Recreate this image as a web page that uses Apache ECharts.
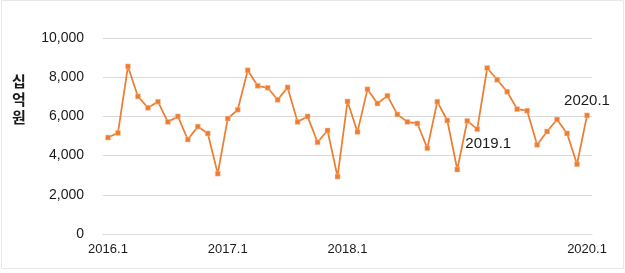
<!DOCTYPE html>
<html>
<head>
<meta charset="utf-8">
<script src="https://cdn.jsdelivr.net/npm/echarts@6/dist/echarts.min.js"></script>
<style>
html,body{margin:0;padding:0;background:#fff;}
#chart{width:625px;height:273px;}
</style>
</head>
<body>
<div id="chart"></div>
<script>
const categories = [
  '2016.1','2016.2','2016.3','2016.4','2016.5','2016.6','2016.7','2016.8','2016.9','2016.10','2016.11','2016.12',
  '2017.1','2017.2','2017.3','2017.4','2017.5','2017.6','2017.7','2017.8','2017.9','2017.10','2017.11','2017.12',
  '2018.1','2018.2','2018.3','2018.4','2018.5','2018.6','2018.7','2018.8','2018.9','2018.10','2018.11','2018.12',
  '2019.1','2019.2','2019.3','2019.4','2019.5','2019.6','2019.7','2019.8','2019.9','2019.10','2019.11','2019.12',
  '2020.1'
];
const values = [
  4920, 5160, 8550, 7020, 6440, 6750, 5720, 6000, 4820, 5480, 5130, 3080,
  5890, 6340, 8350, 7560, 7460, 6850, 7480, 5720, 6000, 4680, 5280, 2930,
  6760, 5210, 7380, 6660, 7050, 6100, 5720, 5640, 4380, 6750, 5790, 3290,
  5770, 5350, 8470, 7870, 7260, 6370, 6290, 4550, 5230, 5840, 5130, 3560,
  6050
];
const xTickLabels = ['2016.1', '2017.1', '2018.1', '2020.1'];
const annotations = ['2019.1', '2020.1'];
const yAxisTitle = '십억원';

const annStyle = {
  '2019.1': { position: 'bottom', offset: [21, 8] },
  '2020.1': { position: 'top', offset: [0, 1] }
};

const seriesData = values.map((v, i) => {
  const c = categories[i];
  if (annotations.includes(c)) {
    return {
      value: v,
      label: Object.assign({
        show: true,
        formatter: c,
        color: '#1a1a1a',
        fontSize: 15,
        fontFamily: 'Liberation Sans'
      }, annStyle[c])
    };
  }
  return v;
});

const chart = echarts.init(document.getElementById('chart'), null, { renderer: 'canvas' });
chart.setOption({
  animation: false,
  backgroundColor: '#fff',
  grid: { left: 103, right: 33, top: 38, bottom: 39 },
  xAxis: {
    type: 'category',
    data: categories,
    boundaryGap: true,
    axisLine: { show: true, lineStyle: { color: '#d9d9d9', width: 1 } },
    axisTick: { show: false },
    axisLabel: {
      interval: (idx, val) => xTickLabels.includes(val),
      color: '#1a1a1a',
      fontSize: 13,
      fontFamily: 'Liberation Sans',
      margin: 9
    },
    splitLine: { show: false }
  },
  yAxis: {
    type: 'value',
    min: 0, max: 10000, interval: 2000,
    axisLine: { show: false },
    axisTick: { show: false },
    axisLabel: {
      formatter: v => v.toLocaleString('en-US'),
      color: '#1a1a1a',
      fontSize: 14,
      fontFamily: 'Liberation Sans',
      margin: 19
    },
    splitLine: { lineStyle: { color: '#d9d9d9', width: 1 } }
  },
  graphic: [
    {
      type: 'rect',
      shape: { x: 1.5, y: 0.5, width: 622, height: 268 },
      style: { fill: 'none', stroke: '#e8e8e8', lineWidth: 1 },
      silent: true
    },
    {
      type: 'text',
      left: 12, top: 72,
      style: {
        text: yAxisTitle.split('').join('\n'),
        font: 'bold 15px "Noto Sans CJK KR"',
        lineHeight: 18,
        fill: '#1a1a1a',
        textAlign: 'left'
      }
    }
  ],
  series: [{
    type: 'line',
    data: seriesData,
    symbol: 'rect',
    symbolSize: 5,
    showAllSymbol: true,
    lineStyle: { color: '#ED7D31', width: 1.75 },
    itemStyle: { color: '#ED7D31', borderColor: '#f7c9a8', borderWidth: 0.5 }
  }]
});
</script>
</body>
</html>
